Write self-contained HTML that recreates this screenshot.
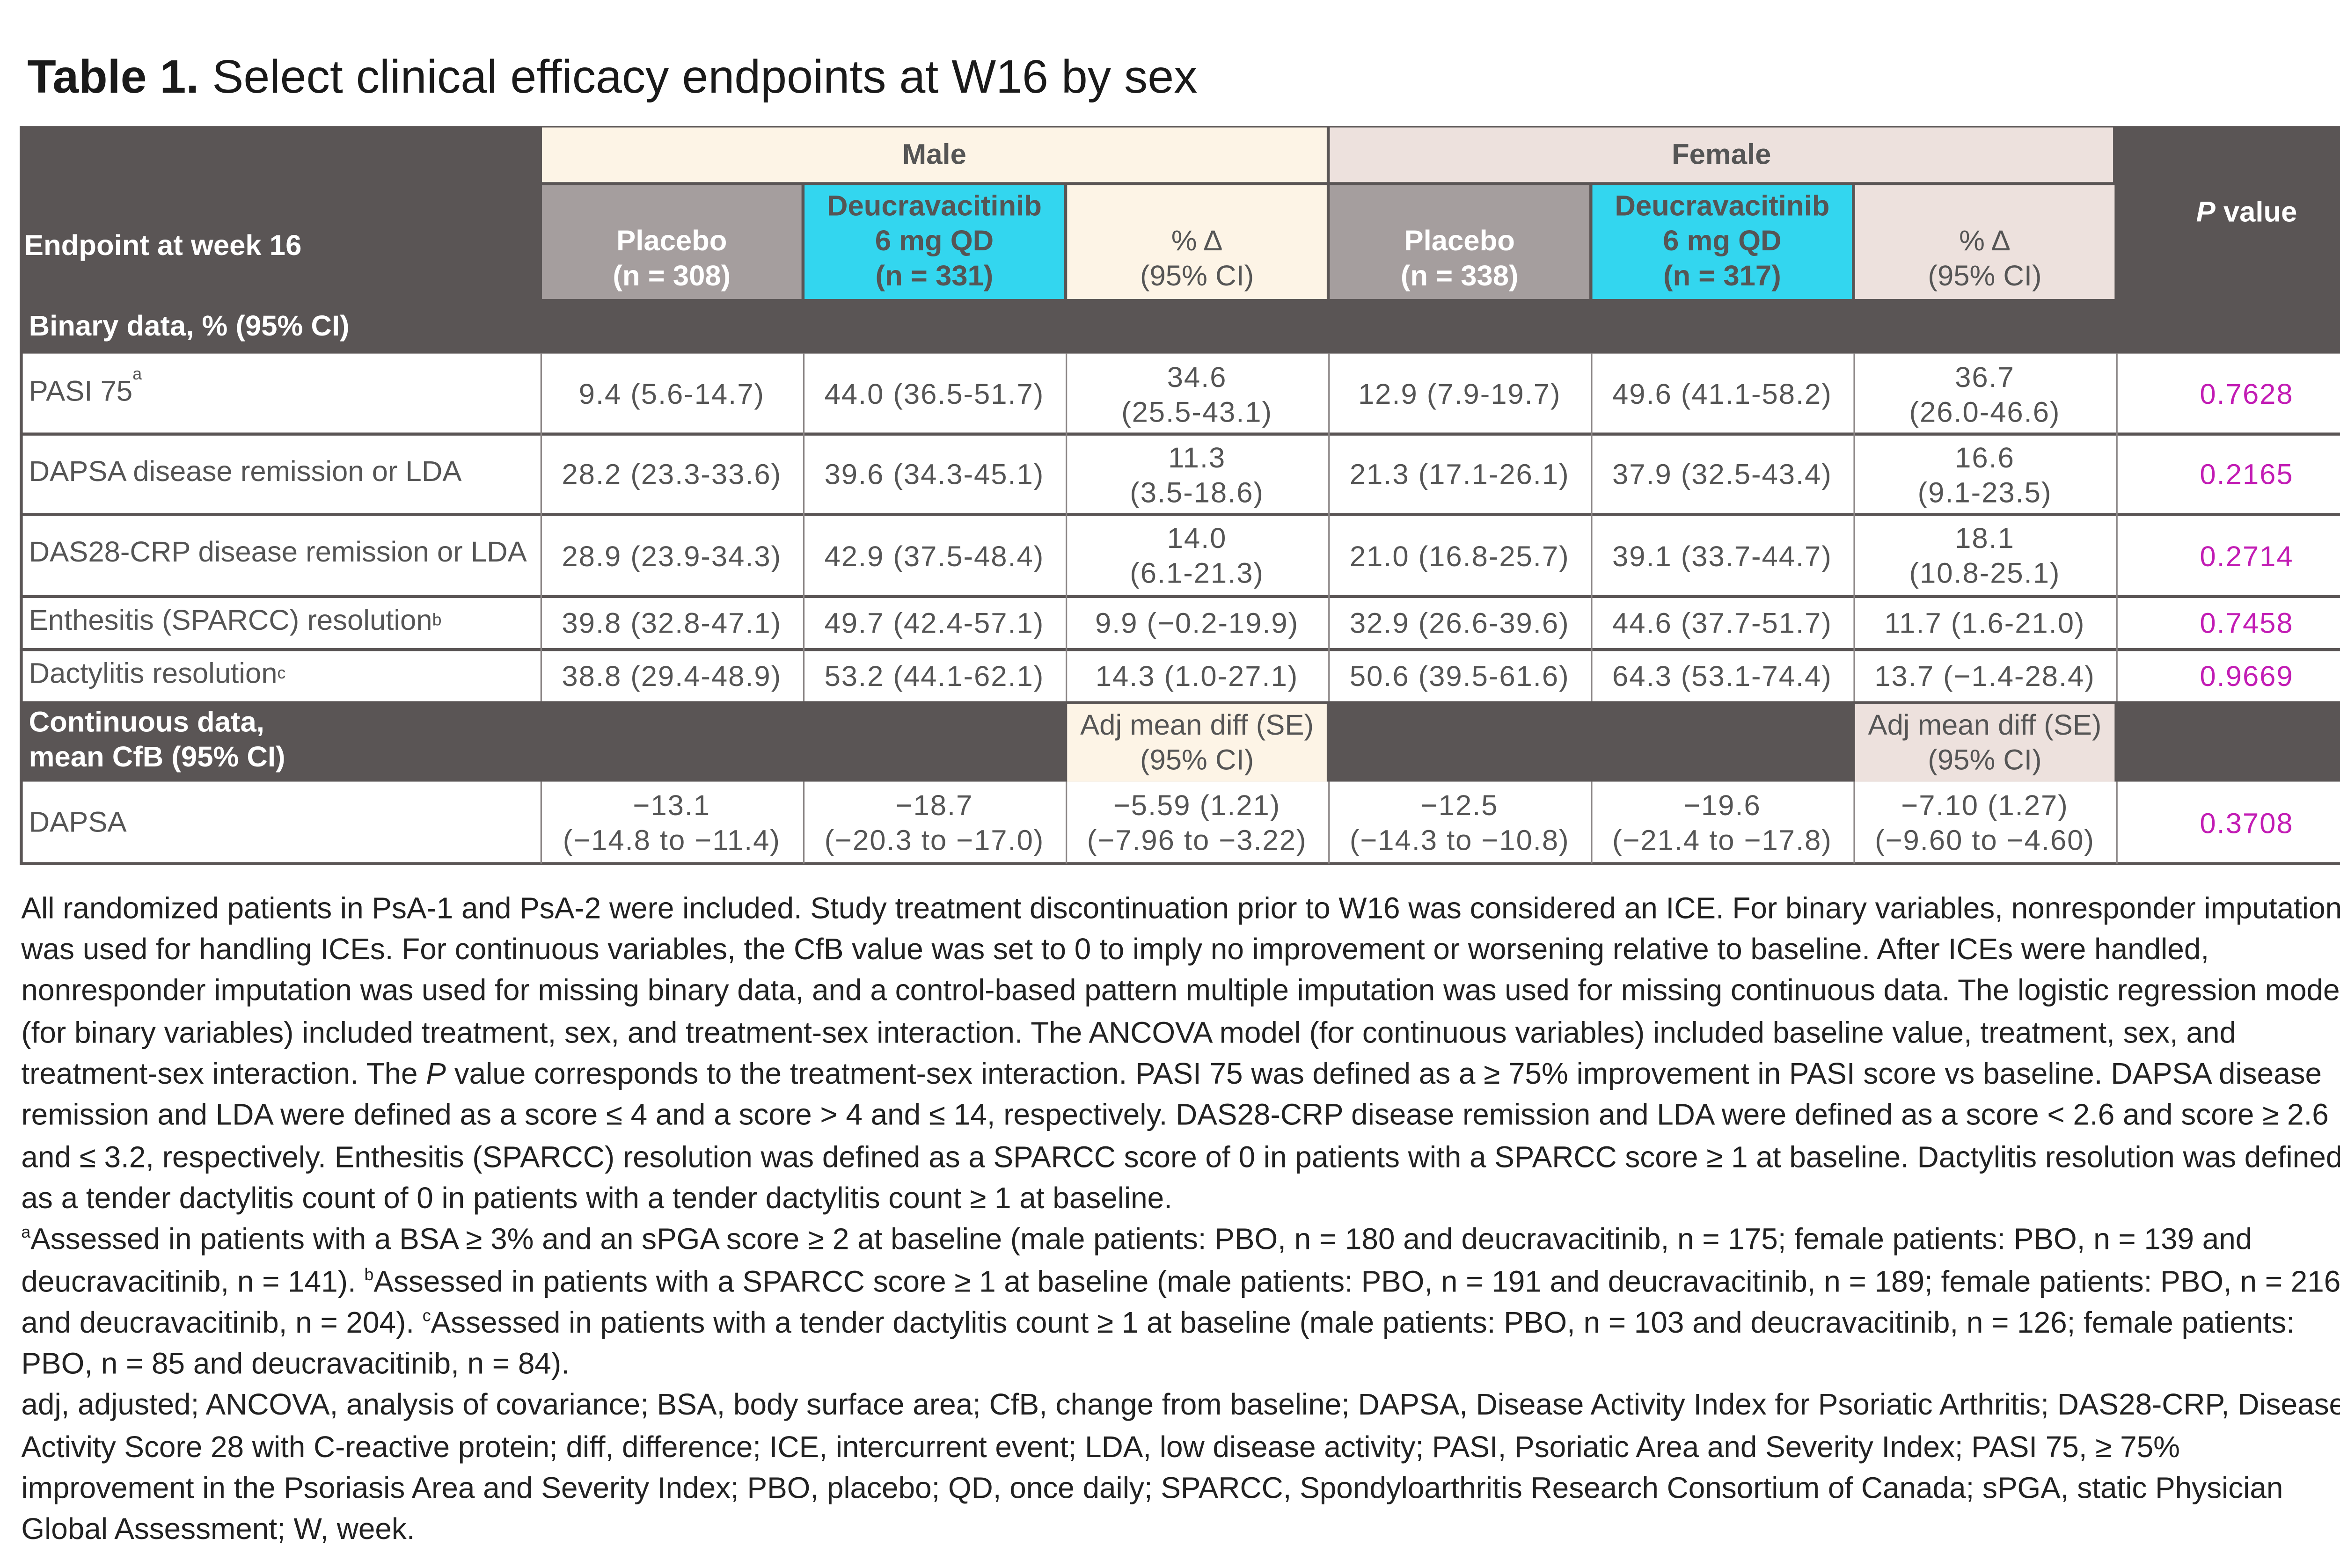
<!DOCTYPE html>
<html><head><meta charset="utf-8">
<style>
html,body{margin:0;padding:0;background:#fff;}
body{width:5086px;height:3351px;overflow:hidden;position:relative;}
#root{position:absolute;left:0;top:0;width:1568px;height:1033px;transform:scale(3.2436);transform-origin:0 0;font-family:"Liberation Sans","DejaVu Sans",sans-serif;color:#222;}
.c{position:absolute;display:flex;align-items:center;justify-content:center;text-align:center;font-size:19px;line-height:23px;color:#555;box-sizing:border-box;white-space:nowrap;}
.n{letter-spacing:0.6px;}
.l{justify-content:flex-start;text-align:left;padding-left:6px;}
.w{color:#fff;}
.b{font-weight:bold;}
.hl{position:absolute;background:#5a5555;}
.vl{position:absolute;background:#8a8585;width:1px;}
.p{color:#c21cb4;}
.fn{position:absolute;left:14px;font-size:19.7px;white-space:nowrap;color:#222;}
</style></head><body>
<div id="root">
<div style="position:absolute;left:18px;top:33px;font-size:31px;white-space:nowrap;color:#1a1a1a;"><b>Table 1.</b> Select clinical efficacy endpoints at W16 by sex</div>

<div style="position:absolute;left:13px;top:83px;width:1553px;height:150px;background:#5a5555;"></div>
<div class="c b" style="left:357px;top:84px;width:517px;height:36px;background:#fdf4e6;">Male</div>
<div class="c b" style="left:876px;top:84px;width:516px;height:36px;background:#ede1dd;">Female</div>
<div class="c w l b" style="left:13px;top:140px;width:340px;height:44px;padding-left:3px;">Endpoint at week 16</div>
<div class="c w b" style="left:357px;top:122px;width:171px;height:75px;background:#a59e9e;padding-top:22px;">Placebo<br>(n = 308)</div>
<div class="c b" style="left:530px;top:122px;width:171px;height:75px;background:#33d6ef;">Deucravacitinib<br>6 mg QD<br>(n = 331)</div>
<div class="c" style="left:703px;top:122px;width:171px;height:75px;background:#fdf4e6;padding-top:22px;">% Δ<br>(95% CI)</div>
<div class="c w b" style="left:876px;top:122px;width:171px;height:75px;background:#a59e9e;padding-top:22px;">Placebo<br>(n = 338)</div>
<div class="c b" style="left:1049px;top:122px;width:171px;height:75px;background:#33d6ef;">Deucravacitinib<br>6 mg QD<br>(n = 317)</div>
<div class="c" style="left:1222px;top:122px;width:171px;height:75px;background:#ede1dd;padding-top:22px;">% Δ<br>(95% CI)</div>
<div class="c w b" style="left:1394px;top:122px;width:172px;height:36px;"><i>P</i>&nbsp;value</div>
<div class="c w l b" style="left:13px;top:198px;width:400px;height:34px;">Binary data, % (95% CI)</div>

<div style="position:absolute;left:13px;top:233px;width:1553px;height:336px;background:#fff;"></div>

<div class="c l" style="left:13px;top:235px;width:343px;height:46px;align-items:flex-start;padding-top:12px;">PASI 75<sup style="font-size:11px;line-height:0;">a</sup></div>
<div class="c n" style="left:356px;top:235px;width:173px;height:51px;">9.4 (5.6-14.7)</div>
<div class="c n" style="left:529px;top:235px;width:173px;height:51px;">44.0 (36.5-51.7)</div>
<div class="c n" style="left:702px;top:235px;width:173px;height:51px;">34.6<br>(25.5-43.1)</div>
<div class="c n" style="left:875px;top:235px;width:173px;height:51px;">12.9 (7.9-19.7)</div>
<div class="c n" style="left:1048px;top:235px;width:173px;height:51px;">49.6 (41.1-58.2)</div>
<div class="c n" style="left:1221px;top:235px;width:173px;height:51px;">36.7<br>(26.0-46.6)</div>
<div class="c n p" style="left:1394px;top:235px;width:172px;height:51px;">0.7628</div>

<div class="c l" style="left:13px;top:288px;width:343px;height:46px;align-items:flex-start;padding-top:12px;">DAPSA disease remission or LDA</div>
<div class="c n" style="left:356px;top:288px;width:173px;height:51px;">28.2 (23.3-33.6)</div>
<div class="c n" style="left:529px;top:288px;width:173px;height:51px;">39.6 (34.3-45.1)</div>
<div class="c n" style="left:702px;top:288px;width:173px;height:51px;">11.3<br>(3.5-18.6)</div>
<div class="c n" style="left:875px;top:288px;width:173px;height:51px;">21.3 (17.1-26.1)</div>
<div class="c n" style="left:1048px;top:288px;width:173px;height:51px;">37.9 (32.5-43.4)</div>
<div class="c n" style="left:1221px;top:288px;width:173px;height:51px;">16.6<br>(9.1-23.5)</div>
<div class="c n p" style="left:1394px;top:288px;width:172px;height:51px;">0.2165</div>

<div class="c l" style="left:13px;top:341px;width:343px;height:46px;align-items:flex-start;padding-top:12px;">DAS28-CRP disease remission or LDA</div>
<div class="c n" style="left:356px;top:341px;width:173px;height:52px;">28.9 (23.9-34.3)</div>
<div class="c n" style="left:529px;top:341px;width:173px;height:52px;">42.9 (37.5-48.4)</div>
<div class="c n" style="left:702px;top:341px;width:173px;height:52px;">14.0<br>(6.1-21.3)</div>
<div class="c n" style="left:875px;top:341px;width:173px;height:52px;">21.0 (16.8-25.7)</div>
<div class="c n" style="left:1048px;top:341px;width:173px;height:52px;">39.1 (33.7-44.7)</div>
<div class="c n" style="left:1221px;top:341px;width:173px;height:52px;">18.1<br>(10.8-25.1)</div>
<div class="c n p" style="left:1394px;top:341px;width:172px;height:52px;">0.2714</div>

<div class="c l" style="left:13px;top:395px;width:343px;height:28px;">Enthesitis (SPARCC) resolution<sup style="font-size:11px;line-height:0;">b</sup></div>
<div class="c n" style="left:356px;top:395px;width:173px;height:33px;">39.8 (32.8-47.1)</div>
<div class="c n" style="left:529px;top:395px;width:173px;height:33px;">49.7 (42.4-57.1)</div>
<div class="c n" style="left:702px;top:395px;width:173px;height:33px;">9.9 (−0.2-19.9)</div>
<div class="c n" style="left:875px;top:395px;width:173px;height:33px;">32.9 (26.6-39.6)</div>
<div class="c n" style="left:1048px;top:395px;width:173px;height:33px;">44.6 (37.7-51.7)</div>
<div class="c n" style="left:1221px;top:395px;width:173px;height:33px;">11.7 (1.6-21.0)</div>
<div class="c n p" style="left:1394px;top:395px;width:172px;height:33px;">0.7458</div>

<div class="c l" style="left:13px;top:430px;width:343px;height:28px;">Dactylitis resolution<sup style="font-size:11px;line-height:0;">c</sup></div>
<div class="c n" style="left:356px;top:430px;width:173px;height:32px;">38.8 (29.4-48.9)</div>
<div class="c n" style="left:529px;top:430px;width:173px;height:32px;">53.2 (44.1-62.1)</div>
<div class="c n" style="left:702px;top:430px;width:173px;height:32px;">14.3 (1.0-27.1)</div>
<div class="c n" style="left:875px;top:430px;width:173px;height:32px;">50.6 (39.5-61.6)</div>
<div class="c n" style="left:1048px;top:430px;width:173px;height:32px;">64.3 (53.1-74.4)</div>
<div class="c n" style="left:1221px;top:430px;width:173px;height:32px;">13.7 (−1.4-28.4)</div>
<div class="c n p" style="left:1394px;top:430px;width:172px;height:32px;">0.9669</div>

<div style="position:absolute;left:13px;top:462px;width:1553px;height:53px;background:#5a5555;"></div>
<div class="c w l b" style="left:13px;top:464px;width:343px;height:48px;">Continuous data,<br>mean CfB (95% CI)</div>
<div class="c" style="left:703px;top:464px;width:171px;height:51px;background:#fdf4e6;">Adj mean diff (SE)<br>(95% CI)</div>
<div class="c" style="left:1222px;top:464px;width:171px;height:51px;background:#ede1dd;">Adj mean diff (SE)<br>(95% CI)</div>

<div class="c l" style="left:13px;top:517px;width:343px;height:50px;">DAPSA</div>
<div class="c n" style="left:356px;top:517px;width:173px;height:52px;">−13.1<br>(−14.8 to −11.4)</div>
<div class="c n" style="left:529px;top:517px;width:173px;height:52px;">−18.7<br>(−20.3 to −17.0)</div>
<div class="c n" style="left:702px;top:517px;width:173px;height:52px;">−5.59 (1.21)<br>(−7.96 to −3.22)</div>
<div class="c n" style="left:875px;top:517px;width:173px;height:52px;">−12.5<br>(−14.3 to −10.8)</div>
<div class="c n" style="left:1048px;top:517px;width:173px;height:52px;">−19.6<br>(−21.4 to −17.8)</div>
<div class="c n" style="left:1221px;top:517px;width:173px;height:52px;">−7.10 (1.27)<br>(−9.60 to −4.60)</div>
<div class="c n p" style="left:1394px;top:517px;width:172px;height:52px;">0.3708</div>

<div class="hl" style="left:13px;top:285px;width:1553px;height:2px;"></div>
<div class="hl" style="left:13px;top:338px;width:1553px;height:2px;"></div>
<div class="hl" style="left:13px;top:392px;width:1553px;height:2px;"></div>
<div class="hl" style="left:13px;top:427px;width:1553px;height:2px;"></div>
<div class="hl" style="left:13px;top:568px;width:1553px;height:2px;"></div>
<div class="hl" style="left:13px;top:83px;width:2px;height:487px;"></div>
<div class="vl" style="left:356px;top:233px;height:229px;"></div>
<div class="vl" style="left:529px;top:233px;height:229px;"></div>
<div class="vl" style="left:702px;top:233px;height:229px;"></div>
<div class="vl" style="left:875px;top:233px;height:229px;"></div>
<div class="vl" style="left:1048px;top:233px;height:229px;"></div>
<div class="vl" style="left:1221px;top:233px;height:229px;"></div>
<div class="vl" style="left:1394px;top:233px;height:229px;"></div>
<div class="vl" style="left:356px;top:515px;height:54px;"></div>
<div class="vl" style="left:529px;top:515px;height:54px;"></div>
<div class="vl" style="left:702px;top:515px;height:54px;"></div>
<div class="vl" style="left:875px;top:515px;height:54px;"></div>
<div class="vl" style="left:1048px;top:515px;height:54px;"></div>
<div class="vl" style="left:1221px;top:515px;height:54px;"></div>
<div class="vl" style="left:1394px;top:515px;height:54px;"></div>

<div>
<div class="fn" style="top:588px;">All randomized patients in PsA-1 and PsA-2 were included. Study treatment discontinuation prior to W16 was considered an ICE. For binary variables, nonresponder imputation</div>
<div class="fn" style="top:615px;">was used for handling ICEs. For continuous variables, the CfB value was set to 0 to imply no improvement or worsening relative to baseline. After ICEs were handled,</div>
<div class="fn" style="top:642px;">nonresponder imputation was used for missing binary data, and a control-based pattern multiple imputation was used for missing continuous data. The logistic regression mode</div>
<div class="fn" style="top:670px;">(for binary variables) included treatment, sex, and treatment-sex interaction. The ANCOVA model (for continuous variables) included baseline value, treatment, sex, and</div>
<div class="fn" style="top:697px;">treatment-sex interaction. The <i>P</i> value corresponds to the treatment-sex interaction. PASI 75 was defined as a ≥ 75% improvement in PASI score vs baseline. DAPSA disease</div>
<div class="fn" style="top:724px;">remission and LDA were defined as a score ≤ 4 and a score &gt; 4 and ≤ 14, respectively. DAS28-CRP disease remission and LDA were defined as a score &lt; 2.6 and score ≥ 2.6</div>
<div class="fn" style="top:752px;">and ≤ 3.2, respectively. Enthesitis (SPARCC) resolution was defined as a SPARCC score of 0 in patients with a SPARCC score ≥ 1 at baseline. Dactylitis resolution was defined</div>
<div class="fn" style="top:779px;">as a tender dactylitis count of 0 in patients with a tender dactylitis count ≥ 1 at baseline.</div>
<div class="fn" style="top:806px;"><sup style="font-size:11px;">a</sup>Assessed in patients with a BSA ≥ 3% and an sPGA score ≥ 2 at baseline (male patients: PBO, n = 180 and deucravacitinib, n = 175; female patients: PBO, n = 139 and</div>
<div class="fn" style="top:834px;">deucravacitinib, n = 141). <sup style="font-size:11px;">b</sup>Assessed in patients with a SPARCC score ≥ 1 at baseline (male patients: PBO, n = 191 and deucravacitinib, n = 189; female patients: PBO, n = 216</div>
<div class="fn" style="top:861px;">and deucravacitinib, n = 204). <sup style="font-size:11px;">c</sup>Assessed in patients with a tender dactylitis count ≥ 1 at baseline (male patients: PBO, n = 103 and deucravacitinib, n = 126; female patients:</div>
<div class="fn" style="top:888px;">PBO, n = 85 and deucravacitinib, n = 84).</div>
<div class="fn" style="top:915px;">adj, adjusted; ANCOVA, analysis of covariance; BSA, body surface area; CfB, change from baseline; DAPSA, Disease Activity Index for Psoriatic Arthritis; DAS28-CRP, Disease</div>
<div class="fn" style="top:943px;">Activity Score 28 with C-reactive protein; diff, difference; ICE, intercurrent event; LDA, low disease activity; PASI, Psoriatic Area and Severity Index; PASI 75, ≥ 75%</div>
<div class="fn" style="top:970px;">improvement in the Psoriasis Area and Severity Index; PBO, placebo; QD, once daily; SPARCC, Spondyloarthritis Research Consortium of Canada; sPGA, static Physician</div>
<div class="fn" style="top:997px;">Global Assessment; W, week.</div>
</div>
</div>
</body></html>
